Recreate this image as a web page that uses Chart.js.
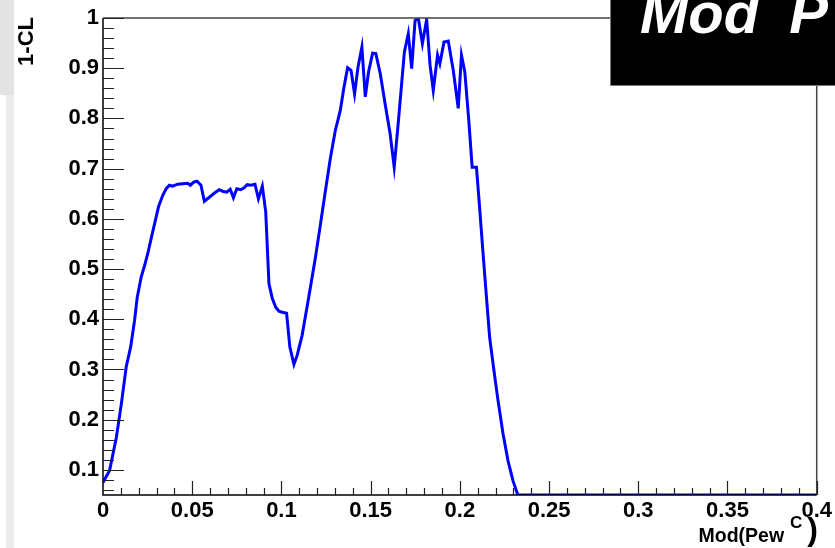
<!DOCTYPE html>
<html>
<head>
<meta charset="utf-8">
<script src="https://cdn.jsdelivr.net/npm/chart.js@4.4.0/dist/chart.umd.min.js"></script>
<style>
  html, body { margin: 0; padding: 0; background: #fff; }
  #wrap { width: 835px; height: 548px; position: relative; }
</style>
</head>
<body>
<div id="wrap"><canvas id="c" width="835" height="548"></canvas></div>
<script>
// Scan of 1-CL versus the modulus of Pew^C
const modPew = [
  0.000, 0.0037, 0.0075, 0.0103, 0.013, 0.0155, 0.0177, 0.0192, 0.0214, 0.0233,
  0.0251, 0.027, 0.0289, 0.0311, 0.0335, 0.0354, 0.0372, 0.039, 0.0419, 0.0446,
  0.0474, 0.049, 0.0508, 0.0527, 0.0549, 0.0568, 0.0596, 0.0623, 0.0651, 0.067,
  0.0694, 0.0713, 0.0731, 0.075, 0.0772, 0.0791, 0.0809, 0.0828, 0.0852, 0.0871,
  0.0893, 0.0912, 0.093, 0.0949, 0.0968, 0.0986, 0.1004, 0.1029, 0.1047, 0.107,
  0.1088, 0.1116, 0.1153, 0.1191, 0.1219, 0.1247, 0.1274, 0.1302, 0.133, 0.1349,
  0.1371, 0.139, 0.141, 0.1429, 0.1451, 0.147, 0.1488, 0.1511, 0.1529, 0.1554,
  0.1581, 0.1609, 0.1632, 0.1656, 0.1689, 0.1711, 0.173, 0.1749, 0.1767, 0.179,
  0.1814, 0.1833, 0.1851, 0.1875, 0.1888, 0.1911, 0.1935, 0.1963, 0.1991, 0.2009,
  0.2028, 0.205, 0.2069, 0.2093, 0.2112, 0.213, 0.2149, 0.2167, 0.2191, 0.2214,
  0.2242, 0.227, 0.2298, 0.2325, 0.4
];
const oneMinusCL = [
  0.075, 0.099, 0.165, 0.232, 0.305, 0.345, 0.398, 0.444, 0.484, 0.507,
  0.531, 0.561, 0.590, 0.624, 0.647, 0.660, 0.667, 0.665, 0.669, 0.670,
  0.671, 0.667, 0.673, 0.675, 0.667, 0.635, 0.643, 0.651, 0.658, 0.655,
  0.653, 0.659, 0.642, 0.660, 0.658, 0.662, 0.668, 0.667, 0.669, 0.640,
  0.665, 0.614, 0.471, 0.441, 0.424, 0.416, 0.414, 0.412, 0.345, 0.310,
  0.328, 0.368, 0.444, 0.524, 0.590, 0.657, 0.720, 0.776, 0.816, 0.859,
  0.901, 0.896, 0.849, 0.902, 0.942, 0.843, 0.892, 0.930, 0.929, 0.889,
  0.829, 0.770, 0.703, 0.796, 0.932, 0.969, 0.899, 0.995, 1.000, 0.949,
  0.997, 0.906, 0.856, 0.926, 0.909, 0.952, 0.954, 0.896, 0.820, 0.926,
  0.892, 0.796, 0.703, 0.703, 0.617, 0.531, 0.444, 0.364, 0.298, 0.238,
  0.172, 0.118, 0.078, 0.050, 0.050
];

const xTickValues = [0, 0.05, 0.1, 0.15, 0.2, 0.25, 0.3, 0.35, 0.4];
const xTickLabels = ['0', '0.05', '0.1', '0.15', '0.2', '0.25', '0.3', '0.35', '0.4'];
const yTickValues = [0.1, 0.2, 0.3, 0.4, 0.5, 0.6, 0.7, 0.8, 0.9, 1.0];
const yTickLabels = ['0.1', '0.2', '0.3', '0.4', '0.5', '0.6', '0.7', '0.8', '0.9', '1'];

const yTitle = '1-CL';
const xTitleMain = 'Mod(Pew';
const xTitleSup = 'C';
const xTitleClose = ')';
const bannerText = 'Mod P';

const FONT = "'Liberation Sans', Arial, Helvetica, sans-serif";

// Pad decoration, inward ticks, frame and titles
const padDecor = {
  id: 'padDecor',
  beforeDraw(chart) {
    const ctx = chart.ctx;
    ctx.save();
    ctx.fillStyle = '#ffffff';
    ctx.fillRect(0, 0, chart.width, chart.height);
    ctx.fillStyle = '#e3e3e3';
    ctx.fillRect(0, 0, 14, 95);
    ctx.fillStyle = '#ececec';
    ctx.fillRect(6, 95, 8, chart.height - 95);
    ctx.restore();
  },
  afterDatasetsDraw(chart) {
    const ctx = chart.ctx;
    const xs = chart.scales.x, ys = chart.scales.y;
    const L = chart.chartArea.left, R = chart.chartArea.right;
    const T = chart.chartArea.top, B = chart.chartArea.bottom;
    ctx.save();

    // frame: top and right
    ctx.strokeStyle = '#444';
    ctx.lineWidth = 1.5;
    ctx.beginPath();
    ctx.moveTo(L, T); ctx.lineTo(R, T); ctx.lineTo(R, B);
    ctx.stroke();

    // axes
    ctx.strokeStyle = '#000';
    ctx.lineWidth = 1.5;
    ctx.beginPath();
    ctx.moveTo(L, T); ctx.lineTo(L, B); ctx.lineTo(R, B);
    ctx.stroke();

    // y ticks (major 0.1, minor 0.02), pointing inward
    ctx.strokeStyle = '#222';
    ctx.lineWidth = 1.2;
    ctx.beginPath();
    for (let k = 3; k <= 50; k++) {
      const v = k * 0.02;
      const py = Math.round(ys.getPixelForValue(v)) + 0.5;
      const major = (k % 5 === 0);
      ctx.moveTo(L, py);
      ctx.lineTo(L + (major ? 21 : 11), py);
    }
    // x ticks (major 0.05, minor 0.01), pointing up
    for (let k = 1; k <= 40; k++) {
      const v = k * 0.01;
      const px = Math.round(xs.getPixelForValue(v)) + 0.5;
      const major = (k % 5 === 0);
      ctx.moveTo(px, B);
      ctx.lineTo(px, B - (major ? 14 : 7));
    }
    ctx.stroke();

    // y title
    ctx.fillStyle = '#000';
    ctx.font = 'bold 22px ' + FONT;
    ctx.save();
    ctx.translate(33, 17);
    ctx.rotate(-Math.PI / 2);
    ctx.textAlign = 'right';
    ctx.textBaseline = 'alphabetic';
    ctx.fillText(yTitle, 0, 0);
    ctx.restore();

    // x title with superscript and a tall closing parenthesis
    ctx.textBaseline = 'alphabetic';
    ctx.textAlign = 'left';
    ctx.font = 'bold 32px ' + FONT;
    const wClose = ctx.measureText(xTitleClose).width;
    ctx.font = 'bold 19.5px ' + FONT;
    const wMain = ctx.measureText(xTitleMain).width;
    ctx.font = 'bold 17px ' + FONT;
    const wSup = ctx.measureText(xTitleSup).width;
    const right = 818;
    const xClose = right - wClose;
    const xSup = xClose - 5 - wSup;
    const xMain = xSup - 6 - wMain;
    ctx.font = 'bold 19.5px ' + FONT;
    ctx.fillText(xTitleMain, xMain, 542);
    ctx.font = 'bold 32px ' + FONT;
    ctx.fillText(xTitleClose, xClose, 540);
    ctx.font = 'bold 17px ' + FONT;
    ctx.fillText(xTitleSup, xSup, 528);

    // banner box in the top-right corner
    ctx.fillStyle = '#000';
    ctx.fillRect(610, 0, chart.width - 610, 85);
    ctx.strokeStyle = '#777';
    ctx.lineWidth = 1;
    ctx.beginPath();
    ctx.moveTo(610.5, 0); ctx.lineTo(610.5, 85.5); ctx.lineTo(chart.width, 85.5);
    ctx.stroke();
    ctx.fillStyle = '#fff';
    ctx.font = 'italic bold 58px ' + FONT;
    ctx.textAlign = 'left';
    if ('wordSpacing' in ctx) ctx.wordSpacing = '14px';
    ctx.fillText(bannerText, 640, 33);

    ctx.restore();
  }
};

const points = modPew.map((x, i) => ({ x: x, y: oneMinusCL[i] }));

new Chart(document.getElementById('c'), {
  type: 'line',
  data: {
    datasets: [{
      data: points,
      borderColor: '#0000ff',
      borderWidth: 3,
      pointRadius: 0,
      tension: 0,
      fill: false
    }]
  },
  options: {
    responsive: false,
    animation: false,
    devicePixelRatio: 1,
    layout: { padding: { top: 18, right: 16, left: 0, bottom: 0 } },
    plugins: { legend: { display: false }, tooltip: { enabled: false } },
    scales: {
      x: {
        type: 'linear',
        min: 0, max: 0.4,
        afterBuildTicks: s => { s.ticks = xTickValues.map(v => ({ value: v })); },
        afterFit: s => { s.height = 53; },
        grid: { display: false, drawTicks: false },
        border: { display: false },
        ticks: {
          autoSkip: false, maxRotation: 0, padding: 3, color: '#000',
          font: { family: FONT, size: 22, weight: 'bold' },
          callback: (v, i) => xTickLabels[i]
        }
      },
      y: {
        type: 'linear',
        min: 0.05, max: 1.0,
        afterBuildTicks: s => { s.ticks = yTickValues.map(v => ({ value: v })); },
        afterFit: s => { s.width = 103; },
        grid: { display: false, drawTicks: false },
        border: { display: false },
        ticks: {
          autoSkip: false, padding: 4, color: '#000',
          font: { family: FONT, size: 22, weight: 'bold' },
          callback: (v, i) => yTickLabels[i]
        }
      }
    }
  },
  plugins: [padDecor]
});
</script>
</body>
</html>
